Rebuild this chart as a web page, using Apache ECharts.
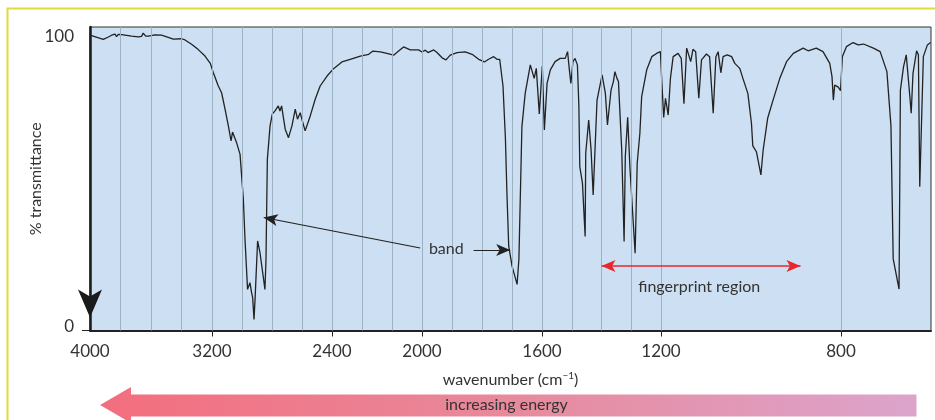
<!DOCTYPE html>
<html>
<head>
<meta charset="utf-8">
<script src="https://cdn.jsdelivr.net/npm/echarts@6/dist/echarts.min.js"></script>
<style>
html,body{margin:0;padding:0;background:#fff;}
#irchart{width:935px;height:420px;}
</style>
</head>
<body>
<div id="irchart"></div>
<script>
// spectrum (cm-1 , % transmittance)
var wavenumbers = [4000,3913,3880,3858,3847,3836,3826,3814,3793,3727,
	3683,3662,3651,3635,3618,3574,3531,3487,3454,3399,
	3377,3334,3290,3246,3211,3191,3158,3136,3113,3091,
	3073,3063,3036,3013,2991,2980,2963,2947,2936,2929,
	2920,2913,2896,2880,2847,2840,2831,2813,2798,2780,
	2758,2747,2736,2725,2712,2690,2667,2645,2630,2612,
	2601,2579,2545,2512,2479,2433,2393,2356,2319,2274,
	2237,2218,2185,2156,2126,2104,2082,2052,2015,2000,
	1989,1980,1961,1950,1933,1920,1906,1883,1856,1833,
	1811,1792,1778,1761,1750,1741,1730,1722,1717,1711,
	1700,1683,1677,1667,1656,1639,1633,1626,1619,1609,
	1599,1592,1583,1572,1556,1539,1522,1514,1508,1503,
	1496,1489,1481,1476,1473,1464,1455,1453,1443,1435,
	1428,1415,1398,1387,1380,1368,1360,1355,1348,1343,
	1332,1324,1320,1312,1304,1287,1280,1271,1265,1248,
	1231,1215,1202,1198,1194,1190,1184,1179,1173,1162,
	1155,1149,1143,1134,1129,1123,1116,1110,1099,1092,
	1084,1078,1073,1067,1062,1053,1043,1036,1025,1018,
	1007,999,996,988,978,973,963,951,936,921,
	906,884,873,855,840,825,820,817,814,806,
	801,797,788,773,762,750,728,713,698,689,
	684,671,668,661,655,647,644,640,632,628,
	625,617,608,601];
var transmittance = [100.6,99.2,100.0,100.6,100.1,101.0,100.1,100.9,100.8,100.3,
	100.0,100.2,101.3,100.3,100.3,100.7,100.6,99.9,99.3,99.4,
	99.0,97.5,95.7,93.5,91.0,87.8,83.3,81.0,75.4,69.7,
	64.6,67.6,64.0,60.0,44.7,31.1,14.0,16.3,12.9,11.2,
	3.8,10.6,30.5,26.5,14.0,24.3,58.3,69.7,73.7,74.8,
	76.5,74.8,76.5,76.5,68.6,65.7,69.7,75.4,72.0,74.2,
	72.0,68.0,73.1,78.8,83.3,86.7,89.2,91.5,92.4,93.5,
	94.1,95.2,94.9,94.4,93.8,95.2,96.6,95.6,95.6,94.9,
	95.5,94.7,95.6,94.7,92.9,92.2,93.8,94.7,94.9,94.1,
	92.4,91.5,92.4,93.3,92.4,92.4,83.3,65.6,47.0,28.8,
	22.0,15.7,24.3,69.4,80.8,90.5,89.9,85.9,89.3,73.8,
	90.1,68.3,84.2,88.8,91.6,92.7,92.7,95.0,88.8,84.2,
	91.6,92.7,90.5,76.3,55.8,50.2,32.0,60.4,71.7,61.5,
	46.2,78.5,87.1,80.8,70.0,81.9,84.8,88.2,85.9,84.8,
	61.5,30.3,59.2,72.6,54.7,26.3,57.0,67.2,79.7,88.8,
	93.3,94.4,95.0,84.2,72.6,79.1,73.4,86.0,93.3,94.4,
	92.7,77.3,96.2,91.6,95.8,95.0,79.1,92.2,94.2,93.3,
	74.0,93.3,95.0,87.8,93.3,93.9,93.3,91.0,89.3,85.9,
	80.8,70.6,62.9,60.9,53.0,61.5,72.3,78.5,85.9,91.6,
	94.4,96.2,95.3,96.2,95.0,91.0,86.5,78.5,83.6,82.9,
	81.7,93.3,96.7,98.1,97.3,97.6,96.2,95.0,88.2,69.7,
	24.4,14.1,81.9,89.9,93.9,79.7,74.0,87.6,95.3,93.9,
	49.0,93.3,97.3,98.1];

var tickLabels = [4000,3200,2400,2000,1600,1200,800];
var gridLines = [3800,3600,3400,3200,3000,2800,2600,2400,2267,2133,2000,1900,1800,1700,1600,1500,1400,1300,1200,800];
var yLabels = [0,100];

// the printed axis is not linear: wavenumber -> distance along the axis
var scaleKnots = [[4000,0],[3200,122],[2400,242],[2000,332],[1600,452],[1200,571],[800,751],[600,841]];
function xPos(wn){
	for(var i=0;i<scaleKnots.length-1;i++){
		var a=scaleKnots[i], b=scaleKnots[i+1];
		if(wn<=a[0] && wn>=b[0]){
			return a[1]+(a[0]-wn)*(b[1]-a[1])/(a[0]-b[0]);
		}
	}
	return wn>4000 ? 0 : 841;
}
function wnAt(pos){
	for(var i=0;i<tickLabels.length;i++){
		if(Math.abs(xPos(tickLabels[i])-pos)<0.5) return tickLabels[i];
	}
	return '';
}

var spectrum=[];
for(var i=0;i<wavenumbers.length;i++){
	spectrum.push([xPos(wavenumbers[i]), transmittance[i]]);
}

var font='Lato';
var chart=echarts.init(document.getElementById('irchart'));
var option={
	animation:false,
	backgroundColor:'#fff',
	grid:{
		left:90, right:4, top:27, bottom:89.5,
		show:true,
		backgroundColor:'#cddff2',
		borderColor:'#333',
		borderWidth:1
	},
	xAxis:{
		type:'value',
		min:0, max:841,
		name:'wavenumber (cm{sup|\u22121})',
		nameLocation:'middle',
		nameGap:40,
		nameMoveOverlap:false,
		nameTextStyle:{
			fontFamily:font, fontSize:16, color:'#333', lineHeight:18,
			rich:{ sup:{fontFamily:font, fontSize:10, color:'#333', verticalAlign:'top', lineHeight:10} }
		},
		axisLine:{ show:true, onZero:false, lineStyle:{color:'#222', width:2} },
		axisTick:{ show:true, length:6, customValues:tickLabels.slice(1).map(xPos), lineStyle:{color:'#222', width:1} },
		axisLabel:{
			customValues:tickLabels.map(xPos),
			formatter:function(v){ return wnAt(v); },
			fontFamily:font, fontSize:17, color:'#333', margin:13
		},
		splitLine:{show:false}
	},
	yAxis:{
		type:'value',
		min:0, max:103.4,
		name:'% transmittance',
		nameLocation:'middle',
		nameRotate:90,
		nameGap:46,
		nameMoveOverlap:false,
		nameTextStyle:{fontFamily:font, fontSize:16, color:'#333'},
		axisLine:{
			show:true, onZero:false,
			lineStyle:{color:'#1a1a1a', width:2.5},
			symbol:['arrow','none'],
			symbolSize:[18,28],
			symbolOffset:[13,0]
		},
		axisTick:{ show:true, length:8, customValues:[0], lineStyle:{color:'#222', width:1} },
		axisLabel:{
			customValues:yLabels,
			formatter:function(v){ return v===0 ? '{lift|0}' : String(v); },
			rich:{ lift:{fontFamily:font, fontSize:17, color:'#333', padding:[0,0,7,0]} },
			fontFamily:font, fontSize:17, color:'#333', margin:16
		},
		splitLine:{show:false}
	},
	series:[
		{
			// vertical rules of the chart paper
			name:'rules',
			type:'line',
			data:[],
			z:2,
			markLine:{
				silent:true,
				symbol:['none','none'],
				label:{show:false},
				lineStyle:{color:'#9cb1c2', width:1, type:'solid'},
				data:gridLines.map(function(w){ return {xAxis:xPos(w)}; })
			}
		},
		{
			name:'spectrum',
			type:'line',
			data:spectrum,
			z:3,
			showSymbol:false,
			smooth:false,
			lineStyle:{color:'#222', width:1.3}
		},
		{
			name:'notes',
			type:'line',
			data:[],
			z:4,
			markLine:{
				silent:true,
				label:{show:false},
				symbolSize:[9,14],
				lineStyle:{color:'#222', width:1.2, type:'solid'},
				data:[
					[{coord:[xPos(2008),28.1], symbol:'none'},{coord:[xPos(2855),38.5], symbol:'arrow'}],
					[{coord:[xPos(1828),27.4], symbol:'none'},{coord:[xPos(1706),27.4], symbol:'arrow'}],
					[{coord:[xPos(1400),22.0], symbol:'arrow', lineStyle:{color:'#e8262c', width:1.5}},
					 {coord:[xPos(890),22.0], symbol:'arrow', lineStyle:{color:'#e8262c', width:1.5}}]
				]
			},
			markPoint:{
				silent:true,
				symbol:'rect',
				symbolSize:1,
				itemStyle:{color:'rgba(0,0,0,0)'},
				label:{show:true, position:'inside', formatter:'{b}', fontFamily:font, fontSize:16, color:'#333'},
				data:[
					{name:'band', coord:[xPos(1919),27.8]},
					{name:'fingerprint region', coord:[xPos(1115),14.8]}
				]
			}
		}
	],
	graphic:[
		{
			type:'rect',
			silent:true,
			shape:{x:7.5, y:8.5, width:960, height:440},
			style:{fill:'none', stroke:'#dcdc3c', lineWidth:2}
		},
		{
			type:'polygon',
			silent:true,
			shape:{points:[[100,405],[131,387],[131,394.5],[916.5,394.5],[916.5,416.5],[131,416.5],[131,423]]},
			style:{
				fill:new echarts.graphic.LinearGradient(0,0,1,0,[
					{offset:0,color:'#f36e7e'},
					{offset:0.5,color:'#e8899c'},
					{offset:1,color:'#dca4cc'}
				])
			}
		},
		{
			type:'text',
			silent:true,
			x:506.5, y:405,
			style:{text:'increasing energy', fontFamily:font, fontSize:16, fill:'#333', align:'center', verticalAlign:'middle'}
		}
	]
};
chart.setOption(option);
</script>
</body>
</html>
